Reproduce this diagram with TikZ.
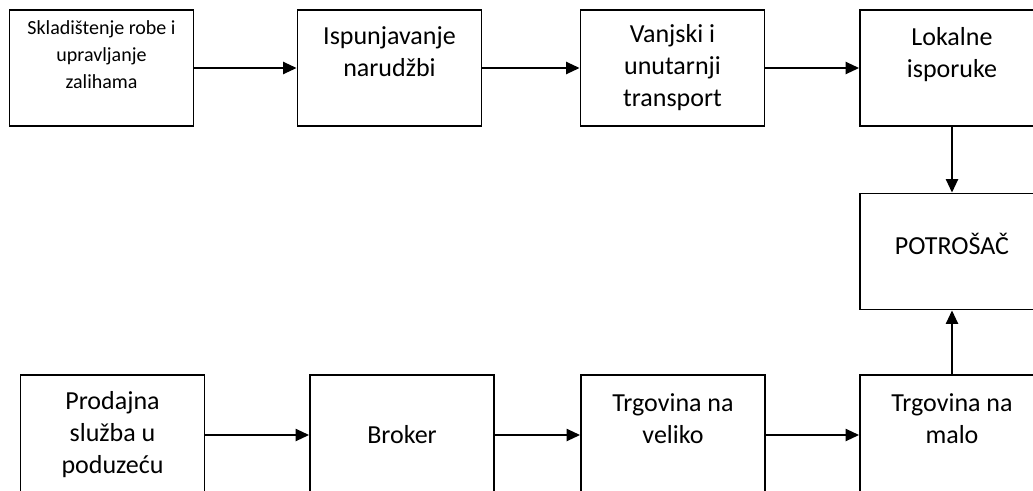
\documentclass[tikz,border=0pt]{standalone}
\usepackage{fontspec}
\setmainfont{Carlito}
\usetikzlibrary{arrows.meta}

\begin{document}
\begin{tikzpicture}[x=0.75pt,y=-0.75pt,
  box/.style={draw, line width=1.4pt, minimum width=138pt, minimum height=87pt, inner sep=0pt, align=center, font=\fontsize{19.5}{24}\selectfont},
  tall/.style={minimum height=90pt},
  flow/.style={line width=1.4pt, -{Triangle[length=10pt,width=9pt]}}]
\fill[white] (0,0) rectangle (1033,490);
\clip (0,0) rectangle (1033,490);
% gornji red
\node[box, font=\fontsize{15}{20}\selectfont] (sklad) at (101.5,68) {Skladištenje robe i\\upravljanje\\zalihama\\~};
\node[box] (isp) at (389.5,68) {Ispunjavanje\\narudžbi\\~};
\node[box] (trans) at (672.5,68) {Vanjski i\\unutarnji\\transport};
\node[box] (lok) at (952,68) {Lokalne\\isporuke\\~};
\node[box, text height=15pt, text depth=11pt] (pot) at (952,251.5) {POTROŠAČ};
% donji red
\node[box, tall] (prod) at (112.5,435) {Prodajna\\služba u\\poduzeću};
\node[box, tall] (broker) at (402,435) {Broker};
\node[box, tall] (veliko) at (673,435) {Trgovina na\\veliko\\~};
\node[box, tall] (malo) at (952,435) {Trgovina na\\malo\\~};
% strelice
\draw[flow] (sklad) -- (isp);
\draw[flow] (isp) -- (trans);
\draw[flow] (trans) -- (lok);
\draw[flow] (lok) -- (pot);
\draw[flow] (prod) -- (broker);
\draw[flow] (broker) -- (veliko);
\draw[flow] (veliko) -- (malo);
\draw[flow] (malo) -- (pot);
\end{tikzpicture}
\end{document}
